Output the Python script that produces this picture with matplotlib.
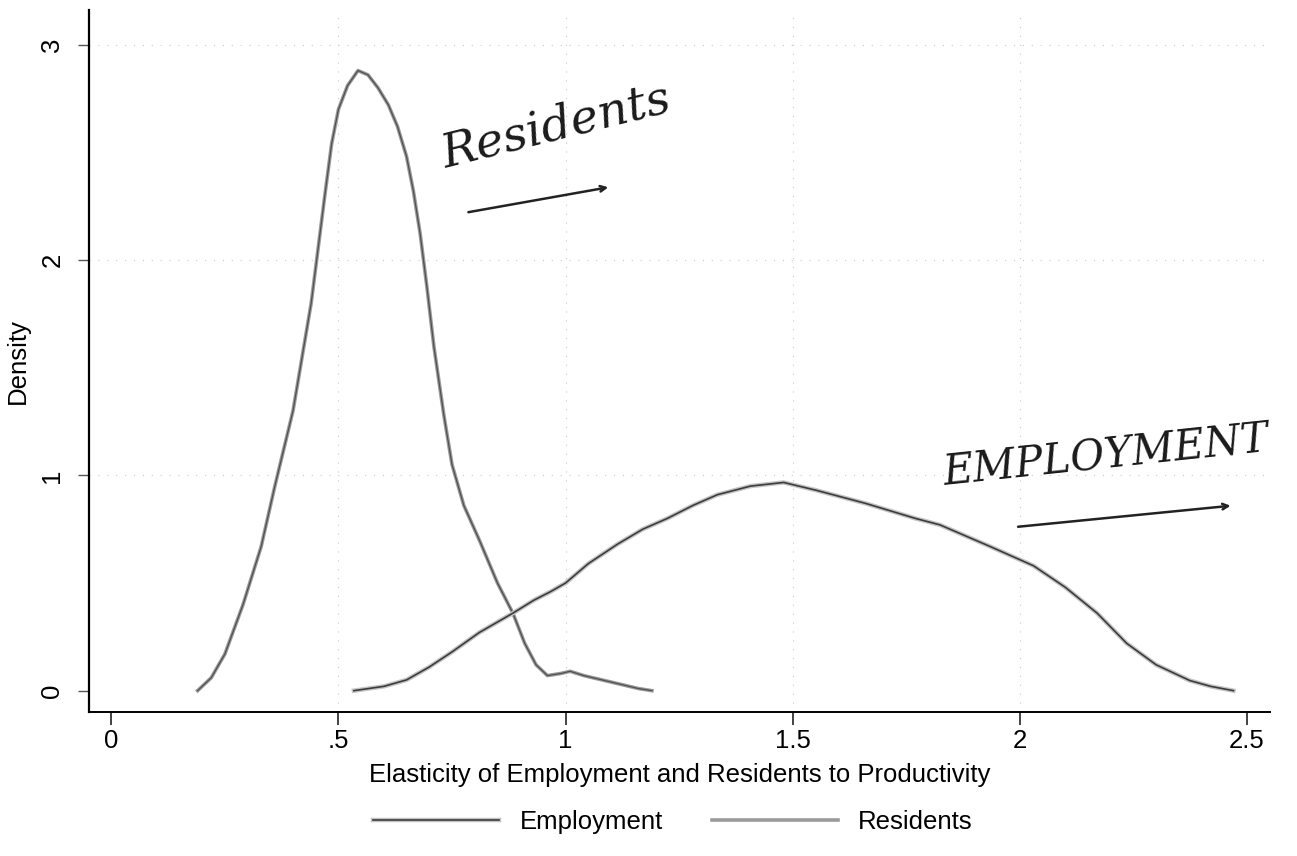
import numpy as np
import matplotlib
matplotlib.use('Agg')
import matplotlib.pyplot as plt
import matplotlib.patheffects as pe

plt.rcParams['font.family'] = ['Liberation Sans', 'DejaVu Sans']

# Kernel density curves
emp_x = [0.534, 0.60, 0.65, 0.70, 0.75, 0.81, 0.884, 0.93, 0.967, 1.00, 1.05, 1.114,
         1.17, 1.224, 1.28, 1.334, 1.407, 1.48, 1.553, 1.66, 1.77, 1.824, 1.846, 1.934,
         2.03, 2.10, 2.17, 2.235, 2.30, 2.374, 2.42, 2.47]
emp_y = [0.00, 0.02, 0.05, 0.11, 0.18, 0.27, 0.36, 0.42, 0.46, 0.50, 0.59, 0.68,
         0.75, 0.80, 0.86, 0.91, 0.95, 0.967, 0.93, 0.87, 0.80, 0.77, 0.75, 0.67,
         0.58, 0.48, 0.36, 0.22, 0.12, 0.047, 0.02, 0.00]

res_x = [0.19, 0.22, 0.25, 0.29, 0.33, 0.36, 0.40, 0.42, 0.44, 0.455, 0.47, 0.485,
         0.50, 0.52, 0.543, 0.565, 0.587, 0.61, 0.63, 0.65, 0.665, 0.68, 0.695, 0.71,
         0.732, 0.75, 0.776, 0.81, 0.85, 0.884, 0.91, 0.935, 0.96, 0.99, 1.01, 1.04,
         1.08, 1.12, 1.16, 1.19]
res_y = [0.00, 0.06, 0.17, 0.40, 0.67, 0.95, 1.30, 1.55, 1.80, 2.05, 2.30, 2.54,
         2.70, 2.81, 2.88, 2.86, 2.80, 2.72, 2.62, 2.48, 2.32, 2.12, 1.87, 1.60,
         1.28, 1.05, 0.86, 0.70, 0.50, 0.36, 0.22, 0.12, 0.07, 0.08, 0.09, 0.07,
         0.05, 0.03, 0.01, 0.00]

x_ticks = [0, 0.5, 1, 1.5, 2, 2.5]
x_labels = ['0', '.5', '1', '1.5', '2', '2.5']
y_ticks = [0, 1, 2, 3]
y_labels = ['0', '1', '2', '3']

fs = 18.5

fig = plt.figure(figsize=(12.97, 8.56), dpi=100)
ax = fig.add_axes([0.069, 0.168, 0.910, 0.820])

# faint dotted grid like the scanned Stata graph
for yv in y_ticks[1:]:
    ax.axhline(yv, color='#c8c8c8', lw=0.8, ls=(0, (1, 7)), zorder=0)
for xv in x_ticks[1:-1]:
    ax.axvline(xv, color='#c8c8c8', lw=0.8, ls=(0, (1, 7)), zorder=0)

halo = [pe.Stroke(linewidth=3.2, foreground='#c4c4c4'), pe.Normal()]
ax.plot(emp_x, emp_y, color='#3c3c3c', lw=1.2, label='Employment',
        path_effects=halo, zorder=3)
ax.plot(res_x, res_y, color='#9a9a9a', lw=2.6, label='Residents', zorder=2)
ax.plot(res_x, res_y, color='#505050', lw=0.9, zorder=2.5)

ax.set_xlim(-0.048, 2.55)
ax.set_ylim(-0.10, 3.16)
ax.set_xticks(x_ticks)
ax.set_xticklabels(x_labels, fontsize=fs)
ax.set_yticks(y_ticks)
ax.set_yticklabels(y_labels, fontsize=fs, rotation=90, va='center')
ax.tick_params(axis='x', length=9, width=1.2, color='#222222', pad=3)
ax.tick_params(axis='y', length=8, width=1.0, color='#555555', pad=10)

ax.spines['top'].set_visible(False)
ax.spines['right'].set_visible(False)
ax.spines['left'].set_linewidth(1.6)
ax.spines['bottom'].set_linewidth(1.4)

ax.set_xlabel('Elasticity of Employment and Residents to Productivity', fontsize=fs, labelpad=7)
ax.set_ylabel('Density', fontsize=fs, labelpad=8)

# handwritten notes on the scan
ax.text(0.98, 2.62, 'Residents', fontsize=34, fontstyle='italic', rotation=14,
        ha='center', va='center', color='#1a1a1a', family=['DejaVu Serif'])
ax.annotate('', xy=(1.10, 2.34), xytext=(0.78, 2.22),
            arrowprops=dict(arrowstyle='->', color='#222222', lw=1.8))
ax.text(2.19, 1.09, 'EMPLOYMENT', fontsize=30, fontstyle='italic', rotation=6,
        ha='center', va='center', color='#1a1a1a', family=['DejaVu Serif'])
ax.annotate('', xy=(2.47, 0.86), xytext=(1.99, 0.76),
            arrowprops=dict(arrowstyle='->', color='#222222', lw=1.8))

fig.legend(loc='center', bbox_to_anchor=(0.519, 0.040), ncol=2, frameon=False,
           fontsize=fs, handlelength=4.9, columnspacing=1.9, handletextpad=0.8)

fig.savefig('out.png', dpi=100)
